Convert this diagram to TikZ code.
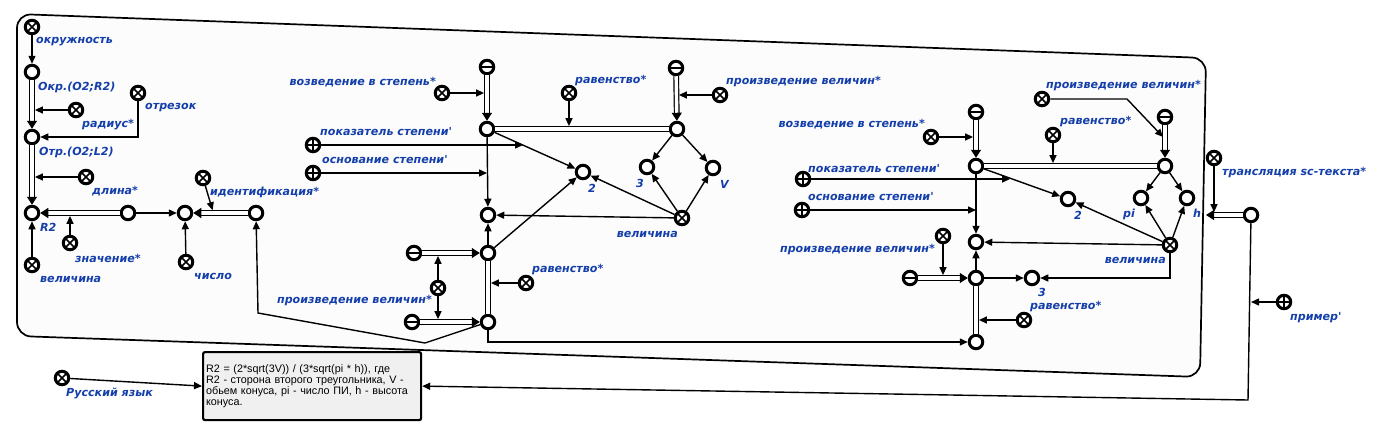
\documentclass[tikz,border=0pt]{standalone}
\usepackage{fontspec}
\usepackage{tikz}
\usetikzlibrary{arrows.meta}
\usetikzlibrary{calc}
\usetikzlibrary{backgrounds}

\newfontfamily\lblfont{DejaVu Sans}[BoldItalicFont={DejaVu Sans Bold Oblique}]
\newfontfamily\boxfont{Liberation Sans}

\definecolor{scblue}{RGB}{20,62,170}
\definecolor{contourbg}{RGB}{252,252,252}
\definecolor{boxbg}{RGB}{240,240,240}

\tikzset{
  sc/.style={circle, draw=black, line width=3pt, fill=white,
    minimum size=13.5pt, inner sep=0pt},
  scnode/.style={sc},
  screl/.style={sc, path picture={
      \draw[line width=1.7pt] (path picture bounding box.south west) -- (path picture bounding box.north east)
        (path picture bounding box.north west) -- (path picture bounding box.south east);}},
  scrole/.style={sc, path picture={
      \draw[line width=1.9pt] (path picture bounding box.north) -- (path picture bounding box.south)
        (path picture bounding box.west) -- (path picture bounding box.east);}},
  scneg/.style={sc, path picture={
      \draw[line width=1.9pt] (path picture bounding box.west) -- (path picture bounding box.east);}},
  lbl/.style={text=scblue, inner sep=0pt,
    font=\lblfont\fontsize{11.1}{13}\selectfont\bfseries\itshape},
  arc/.style={line width=1.4pt, -{Triangle[length=8pt,width=7pt]}},
  pair/.style={double, double distance=3.4pt, line width=1.2pt},
  pairarc/.style={pair, -{Triangle[length=8pt,width=10pt]}},
  rolein/.style={arc, shorten >=2.9pt},
}

\begin{document}
\begin{tikzpicture}[x=1pt, y=-1pt]
  \useasboundingbox (0,0) rectangle (1388,426);

  % Contour
  \draw[line width=1.7pt, fill=contourbg, rounded corners=14pt]
    (17,14) -- (1206,58) -- (1200,377) -- (17,336) -- cycle;
  \coordinate (cR) at (1206,215);

  % Nodes: circle and segment
  \node[screl]  (okr)    at (32,27)   {};
  \node[scnode] (okrO)   at (32,72)   {};
  \node[scnode] (otrO)   at (32,137)  {};
  \node[scnode] (rtwo)   at (32,213)  {};
  \node[screl]  (rad)    at (76,110)  {};
  \node[screl]  (otr)    at (138,93)  {};
  \node[screl]  (dlina)  at (86,177)  {};
  \node[screl]  (velA)   at (32,265)  {};
  \node[scnode] (valA)   at (128,213) {};
  \node[screl]  (znach)  at (70,243)  {};
  \node[scnode] (numA)   at (185,213) {};
  \node[screl]  (chislo) at (186,262) {};
  \node[scnode] (idA)    at (256,213) {};
  \node[screl]  (ident)  at (203,178) {};

  % Nodes: volume formula
  \node[scneg]  (negPow)   at (487,67)  {};
  \node[screl]  (relPow)   at (442,93)  {};
  \node[scnode] (pw)       at (487,129) {};
  \node[scneg]  (negProd)  at (676,68)  {};
  \node[screl]  (relProd)  at (720,95)  {};
  \node[scnode] (pr)       at (677,129) {};
  \node[screl]  (relEqA)   at (569,93)  {};
  \node[scrole] (roleExp)  at (313,145) {};
  \node[scnode] (two)      at (583,172) {};
  \node[scrole] (roleBase) at (313,173) {};
  \node[scnode] (cc)       at (488,215) {};
  \node[scnode] (three)    at (647,167) {};
  \node[scnode] (vv)       at (713,168) {};
  \node[screl]  (velB)     at (682,218) {};
  \node[scnode] (dd)       at (488,253) {};
  \node[scneg]  (negD)     at (414,253) {};
  \node[screl]  (relProdB) at (438,288) {};
  \node[scneg]  (negE)     at (412,322) {};
  \node[scnode] (ee)       at (488,322) {};
  \node[screl]  (relEqB)   at (526,283) {};

  % Nodes: cone
  \node[scneg]  (negPowR)   at (976,112)  {};
  \node[screl]  (relPowR)   at (931,137)  {};
  \node[scnode] (pwR)       at (976,166)  {};
  \node[scneg]  (negProdR)  at (1165,117) {};
  \node[screl]  (relProdR)  at (1042,99)  {};
  \node[scnode] (prR)       at (1165,166) {};
  \node[screl]  (relEqR)    at (1053,135) {};
  \node[scrole] (roleExpR)  at (803,179)  {};
  \node[scnode] (twoR)      at (1068,199) {};
  \node[scrole] (roleBaseR) at (802,210)  {};
  \node[scnode] (hhR)       at (976,242)  {};
  \node[scnode] (piR)       at (1141,198) {};
  \node[scnode] (hR)        at (1187,198) {};
  \node[screl]  (velR)      at (1170,245) {};
  \node[scnode] (iiR)       at (976,278)  {};
  \node[scneg]  (negIR)     at (910,278)  {};
  \node[screl]  (relProdR2) at (943,236)  {};
  \node[scnode] (threeR)    at (1032,278) {};
  \node[scnode] (jjR)       at (976,342)  {};
  \node[screl]  (relEqR2)   at (1024,320) {};

  % Nodes: translation
  \node[screl]  (relTr)  at (1214,158) {};
  \node[scnode] (tr)     at (1251,215) {};
  \node[scrole] (roleEx) at (1284,302) {};
  \node[screl]  (relRus) at (62,378)   {};
  \node[draw=black, line width=2.2pt, fill=boxbg, rounded corners=2pt,
    anchor=north west, minimum width=218pt, minimum height=68pt,
    text width=212pt, align=left, inner sep=3pt,
    font=\boxfont\fontsize{10.8}{11.2}\selectfont] (txt) at (202,351)
    {R2 = (2*sqrt(3V)) / (3*sqrt(pi * h)), где\\
     R2 - сторона второго треугольника, V -\\
     обьем конуса, pi - число ПИ, h - высота\\
     конуса.};

  % Labels
  \node[lbl, anchor=west] (lOkr)   at (36,42)   {окружность};
  \node[lbl, anchor=west] (lOkrO)  at (38,87)   {Окр.(O2;R2)};
  \node[lbl, anchor=west] (lRad)   at (82,125)  {радиус*};
  \node[lbl, anchor=west] (lOtr)   at (145,108) {отрезок};
  \node[lbl, anchor=west] (lOtrO)  at (39,152)  {Отр.(O2;L2)};
  \node[lbl, anchor=west] (lDlina) at (92,191)  {длина*};
  \node[lbl, anchor=west] (lRtwo)  at (40,227)  {R2};
  \node[lbl, anchor=west] (lZnach) at (75,258)  {значение*};
  \node[lbl, anchor=west] (lVelA)  at (40,279)  {величина};
  \node[lbl, anchor=west] (lChis)  at (194,276) {число};
  \node[lbl, anchor=west] (lIdent) at (210,192) {идентификация*};

  \node[lbl, anchor=east] (lPow)     at (436,82)  {возведение в степень*};
  \node[lbl, anchor=west] (lEqA)     at (575,81)  {равенство*};
  \node[lbl, anchor=west] (lProd)    at (726,82)  {произведение величин*};
  \node[lbl, anchor=west] (lExp)     at (320,132) {показатель степени'};
  \node[lbl, anchor=west] (lBase)    at (322,160) {основание степени'};
  \node[lbl, anchor=west] (lTwo)     at (588,188) {2};
  \node[lbl, anchor=west] (lThree)   at (636,183) {3};
  \node[lbl, anchor=west] (lVV)      at (720,184) {V};
  \node[lbl, anchor=east] (lVelB)    at (678,234) {величина};
  \node[lbl, anchor=east] (lProdB)   at (432,301) {произведение величин*};
  \node[lbl, anchor=west] (lEqB)     at (532,270) {равенство*};

  \node[lbl, anchor=east] (lPowR)    at (925,124)  {возведение в степень*};
  \node[lbl, anchor=west] (lProdR)   at (1046,86)  {произведение величин*};
  \node[lbl, anchor=west] (lEqR)     at (1060,122) {равенство*};
  \node[lbl, anchor=west] (lExpR)    at (808,169)  {показатель степени'};
  \node[lbl, anchor=west] (lBaseR)   at (808,197)  {основание степени'};
  \node[lbl, anchor=west] (lTwoR)    at (1074,215) {2};
  \node[lbl, anchor=west] (lPiR)     at (1123,214) {pi};
  \node[lbl, anchor=west] (lHR)      at (1193,213) {h};
  \node[lbl, anchor=east] (lVelR)    at (1166,260) {величина};
  \node[lbl, anchor=east] (lProdR2)  at (935,250)  {произведение величин*};
  \node[lbl, anchor=west] (lThreeR)  at (1038,292) {3};
  \node[lbl, anchor=west] (lEqR2)    at (1030,307) {равенство*};
  \node[lbl, anchor=west] (lTr)      at (1222,173) {трансляция sc-текста*};
  \node[lbl, anchor=west] (lEx)      at (1290,318) {пример'};
  \node[lbl, anchor=west] (lRus)     at (66,393)   {Русский язык};

  % Arcs: circle and segment
  \draw[arc] (okr) -- (okrO);
  \draw[pairarc] (okrO) -- (otrO);
  \draw[rolein] (rad) -- (rad -| okrO);
  \draw[arc] (otr) |- (otrO);
  \draw[pairarc] (otrO) -- (rtwo);
  \draw[rolein] (dlina) -- (dlina -| otrO);
  \draw[arc] (velA) -- (rtwo);
  \draw[pairarc] (valA) -- (rtwo);
  \draw[rolein] (znach) -- (znach |- rtwo);
  \draw[arc] (valA) -- (numA);
  \draw[arc] (chislo) -- (numA);
  \draw[pairarc] (idA) -- (numA);
  \draw[rolein] (ident) -- ($(idA)!.6!(numA)$);
  \draw[arc] (ee) -- (425,343) -- (258,313) -- (idA);

  % Arcs: volume formula
  \draw[pairarc] (negPow) -- (pw);
  \draw[rolein] (relPow) -- (relPow -| negPow);
  \draw[pairarc] (negProd) -- (pr);
  \draw[rolein] (relProd) -- (relProd -| negProd);
  \draw[pair] (pw) -- (pr);
  \draw[rolein] (relEqA) -- (relEqA |- pw);
  \draw[arc] (pw) -- (two);
  \coordinate (kExp) at ($(pw)!.375!(two)$);
  \draw[arc] (roleExp) -- (roleExp -| kExp);
  \draw[arc] (pw) -- (cc);
  \draw[arc] (roleBase) -- (roleBase -| pw);
  \draw[arc] (pr) -- (three);
  \draw[arc] (pr) -- (vv);
  \draw[arc] (velB) -- (three);
  \draw[arc] (velB) -- (vv);
  \draw[arc] (velB) -- (two);
  \draw[arc] (velB) -- (cc);
  \draw[arc] (dd) -- (cc);
  \draw[arc] (dd) -- (two);
  \draw[pairarc] (negD) -- (dd);
  \draw[pairarc] (negE) -- (ee);
  \draw[rolein] (relProdB) -- (relProdB |- negD);
  \draw[rolein] (relProdB) -- (relProdB |- negE);
  \draw[pair] (dd) -- (ee);
  \draw[rolein] (relEqB) -- (relEqB -| dd);
  \draw[arc] (ee) |- (jjR);

  % Arcs: cone
  \draw[pairarc] (negPowR) -- (pwR);
  \draw[rolein] (relPowR) -- (relPowR -| negPowR);
  \draw[pairarc] (negProdR) -- (prR);
  \coordinate (kProd) at ($(negProdR)!.45!(prR)$);
  \draw[rolein] (relProdR) -- (1127,99) -- (kProd);
  \draw[pair] (pwR) -- (prR);
  \draw[rolein] (relEqR) -- (relEqR |- pwR);
  \draw[arc] (pwR) -- (twoR);
  \coordinate (kExpR) at ($(pwR)!.37!(twoR)$);
  \draw[arc] (roleExpR) -- (roleExpR -| kExpR);
  \draw[arc] (pwR) -- (hhR);
  \draw[arc] (roleBaseR) -- (roleBaseR -| pwR);
  \draw[arc] (prR) -- (piR);
  \draw[arc] (prR) -- (hR);
  \draw[arc] (velR) -- (piR);
  \draw[arc] (velR) -- (hR);
  \draw[arc] (velR) -- (twoR);
  \draw[arc] (velR) -- (hhR);
  \draw[arc] (velR) |- (threeR);
  \draw[arc] (iiR) -- (hhR);
  \draw[arc] (iiR) -- (threeR);
  \draw[pairarc] (negIR) -- (iiR);
  \draw[rolein] (relProdR2) -- (relProdR2 |- negIR);
  \draw[pair] (iiR) -- (jjR);
  \draw[rolein] (relEqR2) -- (relEqR2 -| iiR);

  % Arcs: translation
  \draw[pairarc] (tr) -- (cR);
  \draw[rolein] (relTr) -- (relTr |- cR);
  \draw[arc] (tr) -- (1248,400) -- (txt.east);
  \draw[arc] (roleEx) -- (roleEx -| tr);
  \draw[arc] (relRus) -- (txt.west);
\end{tikzpicture}
\end{document}
